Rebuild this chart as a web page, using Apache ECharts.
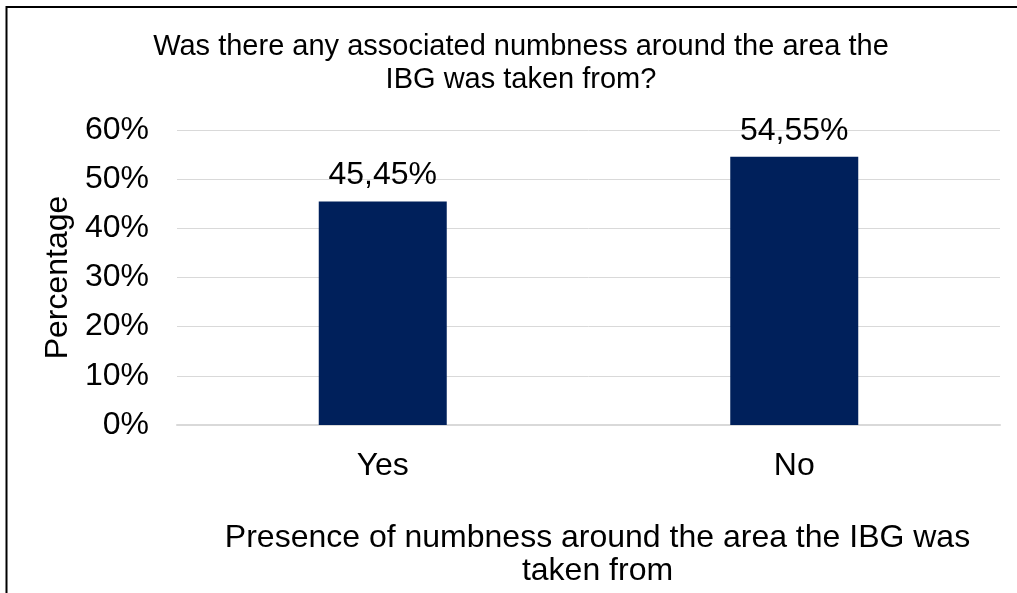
<!DOCTYPE html>
<html>
<head>
<meta charset="utf-8">
<script src="https://cdn.jsdelivr.net/npm/echarts@6/dist/echarts.min.js"></script>
<style>
  html,body{margin:0;padding:0;background:#fff;}
  #main{width:1017px;height:593px;}
</style>
</head>
<body>
<div id="main"></div>
<script>
var categories = ['Yes', 'No'];
var percentValues = [45.45, 54.55];
var yTicks = [0, 10, 20, 30, 40, 50, 60];

var chart = echarts.init(document.getElementById('main'));
var font = 'Liberation Sans, Arial, sans-serif';

var option = {
    animation: false,
    backgroundColor: '#fff',
    title: {
        text: 'Was there any associated numbness around the area the\nIBG was taken from?',
        left: 516,
        top: 25,
        textAlign: 'center',
        textStyle: {fontFamily: font, fontWeight: 'normal', fontSize: 29, lineHeight: 33, color: '#000'}
    },
    grid: {left: 177, right: 17, top: 130, bottom: 168, outerBoundsMode: 'none', containLabel: false},
    xAxis: {
        type: 'category',
        data: categories,
        name: 'Presence of numbness around the area the IBG was\ntaken from',
        nameLocation: 'middle',
        nameGap: 97,
        nameTextStyle: {fontFamily: font, fontSize: 32, lineHeight: 33, color: '#000', padding: [0, 0, 0, 18]},
        axisLine: {lineStyle: {color: '#d9d9d9', width: 2}},
        axisTick: {show: false},
        axisLabel: {fontFamily: font, fontSize: 32, color: '#000', margin: 25}
    },
    yAxis: {
        type: 'value',
        min: yTicks[0],
        max: yTicks[yTicks.length - 1],
        interval: 10,
        name: 'Percentage',
        nameLocation: 'middle',
        nameGap: 99,
        nameTextStyle: {fontFamily: font, fontSize: 32, color: '#000'},
        axisLine: {show: false},
        axisTick: {show: false},
        splitLine: {lineStyle: {color: '#d9d9d9', width: 1}},
        axisLabel: {fontFamily: font, fontSize: 32, color: '#000', margin: 28,
            formatter: function (v) { return v + '%'; }}
    },
    series: [{
        type: 'bar',
        data: percentValues,
        barWidth: 128,
        itemStyle: {color: '#00205b'},
        label: {
            show: true,
            position: 'top',
            distance: 10,
            fontFamily: font,
            fontSize: 32,
            color: '#000',
            formatter: function (p) { return p.value.toFixed(2).replace('.', ',') + '%'; }
        }
    }],
    graphic: [{
        type: 'polyline',
        shape: {points: [[6.5, 600], [6.5, 7], [1020, 7]]},
        style: {stroke: '#000', lineWidth: 2, fill: null}
    }]
};
chart.setOption(option);
</script>
</body>
</html>
